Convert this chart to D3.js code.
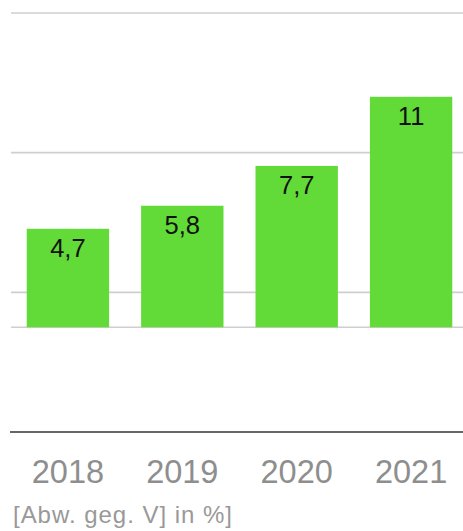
<!DOCTYPE html>
<html>
<head>
<meta charset="utf-8">
<script src="https://cdn.jsdelivr.net/npm/d3@7/dist/d3.min.js"></script>
<style>
  html, body { margin: 0; padding: 0; background: #fff; }
  svg { display: block; font-family: "Liberation Sans", Arial, Helvetica, sans-serif; }
</style>
</head>
<body>
<svg id="chart" width="463" height="531"></svg>
<script>
const categories = ["2018", "2019", "2020", "2021"];
const values = [4.7, 5.8, 7.7, 11];
const valueLabels = ["4,7", "5,8", "7,7", "11"];
const gridValues = [0, 1.667, 8.333, 15];
const axisValue = -5;
const caption = "[Abw. geg. V] in %]";

const svg = d3.select("#chart");
const W = 463;

const x = d3.scaleBand().domain(categories).range([13, 466]).paddingInner(0.28).paddingOuter(0.12);
const y = d3.scaleLinear().domain([-5, 15]).range([432, 13]);

// gridlines
svg.append("g").selectAll("line").data(gridValues).join("line")
  .attr("x1", 11).attr("x2", W)
  .attr("y1", d => y(d)).attr("y2", d => y(d))
  .attr("stroke", "#cfcfcf").attr("stroke-width", 1.6);

// bars
svg.append("g").selectAll("rect").data(values).join("rect")
  .attr("x", (d, i) => x(categories[i]))
  .attr("width", x.bandwidth())
  .attr("y", d => y(d))
  .attr("height", d => y(0) - y(d))
  .attr("fill", "#62da37");

// value labels
svg.append("g").selectAll("text").data(values).join("text")
  .attr("x", (d, i) => x(categories[i]) + x.bandwidth() / 2)
  .attr("y", d => y(d) + 28)
  .attr("text-anchor", "middle")
  .attr("font-size", 25.5)
  .attr("fill", "#111")
  .text((d, i) => valueLabels[i]);

// x axis
const xAxis = d3.axisBottom(x).tickSize(0).tickSizeOuter(0).tickPadding(28);
const gx = svg.append("g").attr("transform", `translate(0,${y(axisValue)})`).call(xAxis);
gx.select(".domain").remove();
gx.selectAll("text").attr("font-size", 32.5).attr("fill", "#8e8e8e")
  .attr("font-family", "Liberation Sans, Arial, sans-serif");

svg.append("line")
  .attr("x1", 10).attr("x2", W)
  .attr("y1", y(axisValue)).attr("y2", y(axisValue))
  .attr("stroke", "#333").attr("stroke-width", 1.5);

// caption
svg.append("text")
  .attr("x", 13).attr("y", 523)
  .attr("font-size", 24)
  .attr("fill", "#999")
  .attr("textLength", 219)
  .attr("lengthAdjust", "spacing")
  .text(caption);
</script>
</body>
</html>
